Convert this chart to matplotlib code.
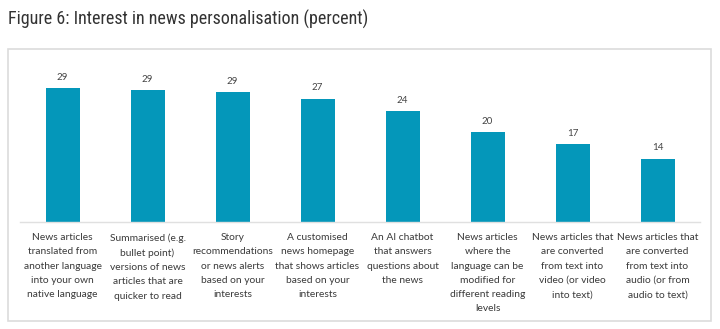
import matplotlib.pyplot as plt
from matplotlib.patches import Rectangle

categories = [
    'News articles\ntranslated from\nanother language\ninto your own\nnative language',
    'Summarised (e.g.\nbullet point)\nversions of news\narticles that are\nquicker to read',
    'Story\nrecommendations\nor news alerts\nbased on your\ninterests',
    'A customised\nnews homepage\nthat shows articles\nbased on your\ninterests',
    'An AI chatbot\nthat answers\nquestions about\nthe news',
    'News articles\nwhere the\nlanguage can be\nmodified for\ndifferent reading\nlevels',
    'News articles that\nare converted\nfrom text into\nvideo (or video\ninto text)',
    'News articles that\nare converted\nfrom text into\naudio (or from\naudio to text)',
]
values = [29.4, 29.0, 28.6, 27.1, 24.4, 19.8, 17.1, 13.9]
labels = ['29', '29', '29', '27', '24', '20', '17', '14']

W, H = 720, 329
fig = plt.figure(figsize=(W / 100, H / 100), dpi=100)

# outer frame
fig.patches.append(Rectangle((8 / W, (H - 321) / H), 703 / W, 272 / H,
                             transform=fig.transFigure, fill=False,
                             edgecolor='#dcdcdc', linewidth=1.2))

fig.text(8 / W, 1 - 19 / H, 'Figure 6: Interest in news personalisation (percent)',
         fontsize=13, color='#333333', va='center', ha='left',
         family=['Roboto Condensed', 'DejaVu Sans'], stretch='condensed')

ax = fig.add_axes([20 / W, (H - 222) / H, 680 / W, 162 / H])
x = range(len(values))
bars = ax.bar(x, values, width=0.4, color='#0497ba')
for b, lab in zip(bars, labels):
    ax.text(b.get_x() + b.get_width() / 2, b.get_height() + 1.4, lab,
            ha='center', va='bottom', fontsize=7, color='#444444', family='Lato')

ax.set_xlim(-0.5, len(values) - 0.5)
ax.set_ylim(0, 162 / 4.55)
ax.set_yticks([])
ax.set_xticks(list(x))
ax.set_xticklabels(categories, fontsize=7.4, color='#3a3a3a', family='Lato',
                   linespacing=1.75, va='top')
ax.tick_params(axis='x', length=0, pad=8)
for s in ['top', 'right', 'left']:
    ax.spines[s].set_visible(False)
ax.spines['bottom'].set_color('#e0e0e0')
ax.spines['bottom'].set_linewidth(1)

fig.savefig('out.png', dpi=100)
